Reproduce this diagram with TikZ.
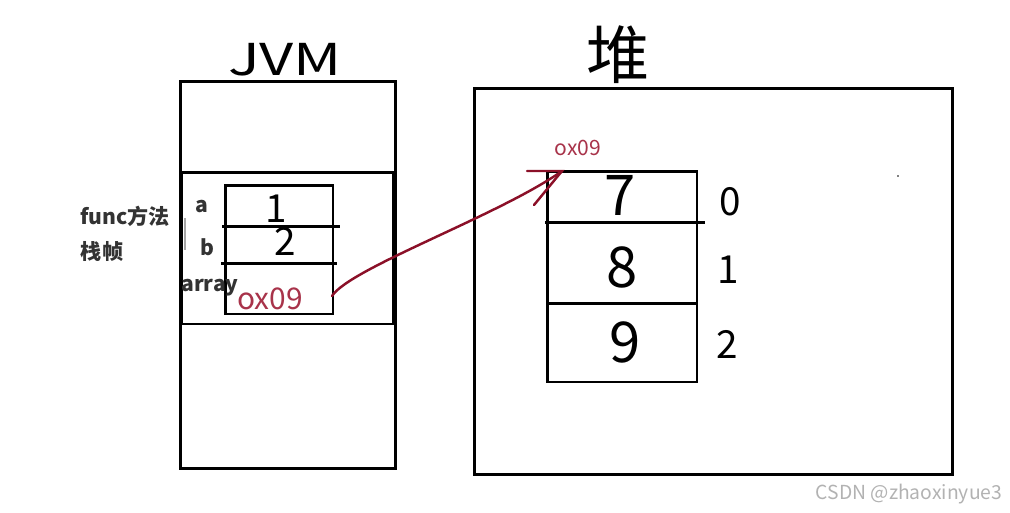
\documentclass[tikz,border=0pt]{standalone}
\usepackage{xcolor}
\usepackage{fontspec}
\setmainfont{Noto Sans CJK SC}
\usetikzlibrary{arrows, positioning}
\definecolor{refred}{HTML}{8B1028}
\definecolor{addrred}{HTML}{A8334A}
\definecolor{labelgray}{HTML}{333333}

\begin{document}
\begin{tikzpicture}[x=0.02cm, y=-0.02cm]
        % Styles
        \tikzstyle{box} = [rectangle, draw, line width=1.7pt, inner sep=0pt]
        \tikzstyle{slot} = [draw, line width=1.7pt]
        \tikzstyle{ink} = [font=\fontsize{32}{32}\selectfont, inner sep=0pt, text height=0.72em, text depth=0pt]
        \tikzstyle{inksmall} = [font=\fontsize{22}{22}\selectfont, inner sep=0pt, text height=0.72em, text depth=0pt]
        \tikzstyle{tag} = [font=\bfseries\fontsize{12}{12}\selectfont, text=labelgray, inner sep=0pt]
        \tikzstyle{addr} = [text=addrred, inner sep=0pt]
        \tikzstyle{ref} = [draw=refred, line width=1.4pt, line cap=round]

        \useasboundingbox (0,0) rectangle (1010,512);

        % Nodes
        \node [box, minimum width=4.32cm, minimum height=7.76cm] (jvm) at (288,275) {};
        \node [box, minimum width=4.26cm, minimum height=3.04cm] (frame) at (287.5,248) {};
        \node [box, minimum width=2.16cm, minimum height=2.58cm] (stack) at (279,249.5) {};
        \node [box, minimum width=9.58cm, minimum height=7.74cm] (heap) at (713.5,281.5) {};
        \node [box, minimum width=3cm, minimum height=4.22cm] (arr) at (622,276.5) {};

        \node [font=\fontsize{25}{25}\selectfont, xscale=1.35] (jvmtitle) at (285,60) {JVM};
        \node [font=\fontsize{36}{36}\selectfont] (heaptitle) at (618,55) {堆};

        \node [tag] (functag) at (125,216) {func方法};
        \node [tag] (frametag) at (102,251) {栈帧};
        \node [tag] (atag) at (202,206) {a};
        \node [tag] (btag) at (207,247) {b};
        \node [tag] (arraytag) at (210,288) {array};

        \node [inksmall] (vala) at (276,216) {1};
        \node [inksmall] (valb) at (285,249) {2};
        \node [addr, font=\fontsize{17}{17}\selectfont] (ptr) at (270,299) {ox09};

        \node [addr, font=\fontsize{12}{12}\selectfont] (heapaddr) at (578,148) {ox09};
        \node [ink] (cell0) at (620,209) {7};
        \node [ink] (cell1) at (622,281) {8};
        \node [ink] (cell2) at (625,356) {9};
        \node [inksmall] (idx0) at (730,209) {0};
        \node [inksmall] (idx1) at (728,277) {1};
        \node [inksmall] (idx2) at (727,352) {2};

        \node [text=gray!60, font=\fontsize{11}{11}\selectfont] (mark) at (909,494) {CSDN @zhaoxinyue3};

        \coordinate (src) at (332,296);
        \coordinate (tip) at (562,171);

        % Paths
        \draw [slot] (222,226) -- (340,226);
        \draw [slot] (221,263) -- (337,263);
        \draw [slot] (545,222) -- (705,222);
        \draw [slot] (548,303) -- (698,303);
        \draw [gray!70, line width=0.6pt] (185,218) -- (185,250);
        \fill (898,176) circle (0.9);

        \draw [ref] (src) .. controls (350,268) and (500,215) .. (tip);
        \draw [ref] (527,171) -- (tip) -- (534,205);
    \end{tikzpicture}
\end{document}
